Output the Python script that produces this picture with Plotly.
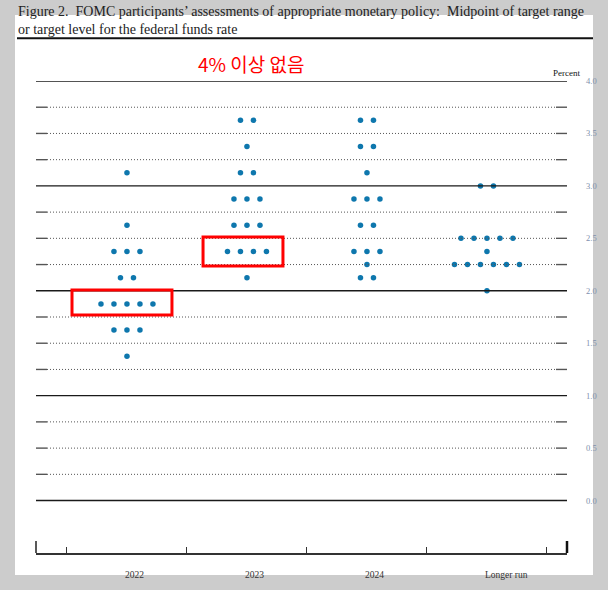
import plotly.graph_objects as go

# FOMC dot plot, March 2022 (midpoint of target range, percent)
categories = ["2022", "2023", "2024", "Longer run"]

rates_2022 = [3.125, 2.625, 2.375, 2.125, 1.875, 1.625, 1.375]
counts_2022 = [1, 1, 3, 2, 5, 3, 1]

rates_2023 = [3.625, 3.375, 3.125, 2.875, 2.625, 2.375, 2.125]
counts_2023 = [2, 1, 2, 3, 3, 4, 1]

rates_2024 = [3.625, 3.375, 3.125, 2.875, 2.625, 2.375, 2.25, 2.125]
counts_2024 = [2, 2, 1, 3, 2, 3, 1, 2]

rates_long = [3.0, 2.5, 2.375, 2.25, 2.0]
counts_long = [2, 5, 1, 6, 1]

y_ticks = [0.0, 0.5, 1.0, 1.5, 2.0, 2.5, 3.0, 3.5, 4.0]
grid_levels = [i * 0.25 for i in range(17)]

title = ("Figure 2.  FOMC participants\u2019 assessments of appropriate monetary policy:  Midpoint of target range"
         "<br>or target level for the federal funds rate")
note = "4% 이상 없음"

# plot area in pixels (page is 608x590)
L, R, T, B = 36, 567, 81, 553
W, H = 608, 590


def px_x(px):
    return (px - L) / (R - L)


def px_y(py):
    return (B - py) / (B - T)


dot_step = 0.1083
series = [(rates_2022, counts_2022), (rates_2023, counts_2023),
          (rates_2024, counts_2024), (rates_long, counts_long)]

xs, ys = [], []
for i, (rates, counts) in enumerate(series):
    for r, n in zip(rates, counts):
        for k in range(n):
            xs.append(i + (k - (n - 1) / 2) * dot_step)
            ys.append(r)

fig = go.Figure()
fig.add_trace(go.Scatter(x=xs, y=ys, mode="markers",
                         marker=dict(color="#0e77ad", size=5.5),
                         hoverinfo="y", showlegend=False))

shapes = []
# white page
shapes.append(dict(type="rect", xref="paper", yref="paper", layer="below",
                   x0=px_x(15), x1=px_x(593), y0=px_y(575), y1=px_y(15),
                   fillcolor="white", line=dict(width=0)))
# rule under the title
shapes.append(dict(type="line", xref="paper", yref="paper",
                   x0=px_x(17), x1=px_x(593), y0=px_y(38.3), y1=px_y(38.3),
                   line=dict(color="#111", width=2)))

end = 11 / (R - L)
for g in grid_levels:
    if g == int(g):
        shapes.append(dict(type="line", xref="paper", yref="y", x0=0, x1=1,
                           y0=g, y1=g, line=dict(color="#1a1a1a", width=1.4)))
    else:
        shapes.append(dict(type="line", xref="paper", yref="y", x0=end, x1=1 - end,
                           y0=g, y1=g, line=dict(color="#555", width=1, dash="1px,2px")))
        for a, b in [(0, end), (1 - end, 1)]:
            shapes.append(dict(type="line", xref="paper", yref="y", x0=a, x1=b,
                               y0=g, y1=g, line=dict(color="#555", width=1.4)))

# end ticks of the x axis
shapes.append(dict(type="line", xref="paper", yref="paper", x0=0, x1=0,
                   y0=0, y1=12 / (B - T), line=dict(color="#222", width=1.5)))
shapes.append(dict(type="line", xref="paper", yref="paper", x0=1, x1=1,
                   y0=0, y1=12 / (B - T), line=dict(color="#111", width=2.5)))

# red highlight boxes
shapes.append(dict(type="rect", xref="x", yref="y", x0=-0.458, x1=0.375,
                   y0=1.769, y1=2.008, line=dict(color="#ff0000", width=3)))
shapes.append(dict(type="rect", xref="x", yref="y", x0=0.634, x1=1.3,
                   y0=2.236, y1=2.513, line=dict(color="#ff0000", width=3)))

serif = "Liberation Serif"
annotations = [
    dict(text=title, xref="paper", yref="paper", x=px_x(16), y=px_y(20),
         xanchor="left", yanchor="middle", align="left", showarrow=False,
         font=dict(family=serif, size=14, color="#222")),
    dict(text=note, xref="paper", yref="paper", x=px_x(251), y=px_y(64),
         xanchor="center", yanchor="middle", showarrow=False,
         font=dict(family="Noto Sans CJK KR", size=19, color="#ff0000")),
    dict(text="Percent", xref="paper", yref="paper", x=px_x(582), y=px_y(73),
         xanchor="right", yanchor="middle", showarrow=False,
         font=dict(family=serif, size=9, color="#111")),
]
for i, c in enumerate(categories):
    annotations.append(dict(text=c, xref="x", yref="paper", x=i - 0.03, y=px_y(575),
                            xanchor="left", yanchor="middle", showarrow=False,
                            font=dict(family=serif, size=9.5, color="#333")))

fig.update_layout(
    width=W, height=H,
    margin=dict(l=L, r=W - R, t=T, b=H - B, pad=0),
    paper_bgcolor="#cccccc", plot_bgcolor="rgba(0,0,0,0)",
    shapes=shapes, annotations=annotations,
    xaxis=dict(range=[-0.758, 3.667], showgrid=False, zeroline=False,
               showline=True, linecolor="#333", linewidth=1.5,
               tickvals=[-0.5, 0.5, 1.5, 2.5, 3.5], ticks="inside", ticklen=6,
               tickcolor="#333", tickwidth=1.3, showticklabels=False),
    yaxis=dict(range=[-0.5, 4.0], showgrid=False, zeroline=False, showline=False,
               side="right", tickvals=y_ticks, ticktext=[f"{v:.1f}" for v in y_ticks],
               ticks="", ticklabelstandoff=18,
               tickfont=dict(family=serif, size=8.5, color="#8090ad")),
)

# drop the page's default 8px body margin so the figure sits at the window corner
fig.write_html("out.html", config={"displayModeBar": False},
               post_script="document.body.style.margin = '0px';")
